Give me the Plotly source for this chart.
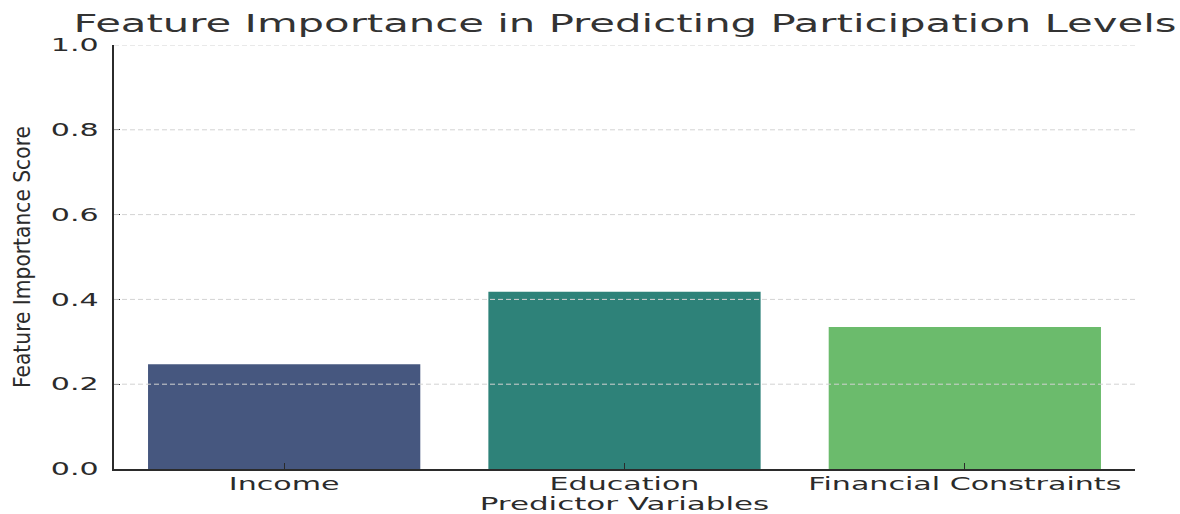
import plotly.graph_objects as go

# Feature importance scores per predictor
features = ["Income", "Education", "Financial Constraints"]
importance = [0.247, 0.418, 0.335]
bar_colors = ["#46577f", "#2e8279", "#6bbb6c"]
y_ticks = [0.0, 0.2, 0.4, 0.6, 0.8, 1.0]
y_tick_text = ["0.0", "0.2", "0.4", "0.6", "0.8", "1.0"]

ink = "#2b2b2b"
base_font = "DejaVu Sans"

fig = go.Figure(
    go.Bar(
        x=features,
        y=importance,
        marker=dict(color=bar_colors, line=dict(width=0)),
        width=0.8,
    )
)

# dashed horizontal grid drawn on top of the bars
for v in y_ticks[1:]:
    fig.add_hline(
        y=v,
        line=dict(color="#d3d3d3", width=1, dash="5px,3px"),
        layer="above",
    )

fig.update_layout(
    width=1180,
    height=514,
    margin=dict(l=114, r=45, t=45, b=45),
    paper_bgcolor="white",
    plot_bgcolor="white",
    showlegend=False,
    title=dict(
        text="Feature Importance in Predicting Participation Levels",
        x=625 / 1180,
        xanchor="center",
        xref="container",
        y=1 - 24 / 514,
        yanchor="middle",
        yref="container",
        font=dict(family=base_font, size=24.3, color="#333333"),
    ),
    xaxis=dict(
        range=[-0.5, 2.5],
        showgrid=False,
        showline=True,
        linecolor=ink,
        linewidth=1.6,
        ticks="inside",
        ticklen=6,
        tickcolor=ink,
        tickfont=dict(family=base_font, size=17.5, color=ink),
        ticklabelstandoff=-2,
        automargin=False,
        title=dict(
            text="Predictor Variables",
            font=dict(family=base_font, size=18, color=ink),
            standoff=11,
        ),
    ),
    yaxis=dict(
        range=[0, 1.0],
        tickvals=y_ticks,
        ticktext=y_tick_text,
        showgrid=False,
        zeroline=False,
        showline=True,
        linecolor=ink,
        linewidth=1.6,
        ticks="inside",
        ticklen=6,
        tickcolor=ink,
        tickfont=dict(family=base_font, size=17.5, color=ink),
        ticklabelstandoff=10,
        automargin=False,
        title=dict(
            text="Feature Importance Score",
            font=dict(family="DejaVu Sans Condensed", size=22.5, color=ink),
            standoff=34,
        ),
    ),
)

# widen the horizontal labels about their anchor points
stretch_js = """
var gd = document.getElementById('{plot_id}');
var S = 1.72;
function widen(sel) {
  gd.querySelectorAll(sel).forEach(function (t) {
    var x = parseFloat(t.getAttribute('x')) || 0;
    var y = parseFloat(t.getAttribute('y')) || 0;
    var tr = t.getAttribute('transform') || '';
    t.setAttribute('transform', tr + ' translate(' + x + ',' + y + ') scale(' + S + ',1) translate(' + (-x) + ',' + (-y) + ')');
  });
}
widen('.gtitle');
widen('.xtick text');
widen('.ytick text');
widen('.g-xtitle text');
"""

fig.write_html("out.html", post_script=stretch_js)
